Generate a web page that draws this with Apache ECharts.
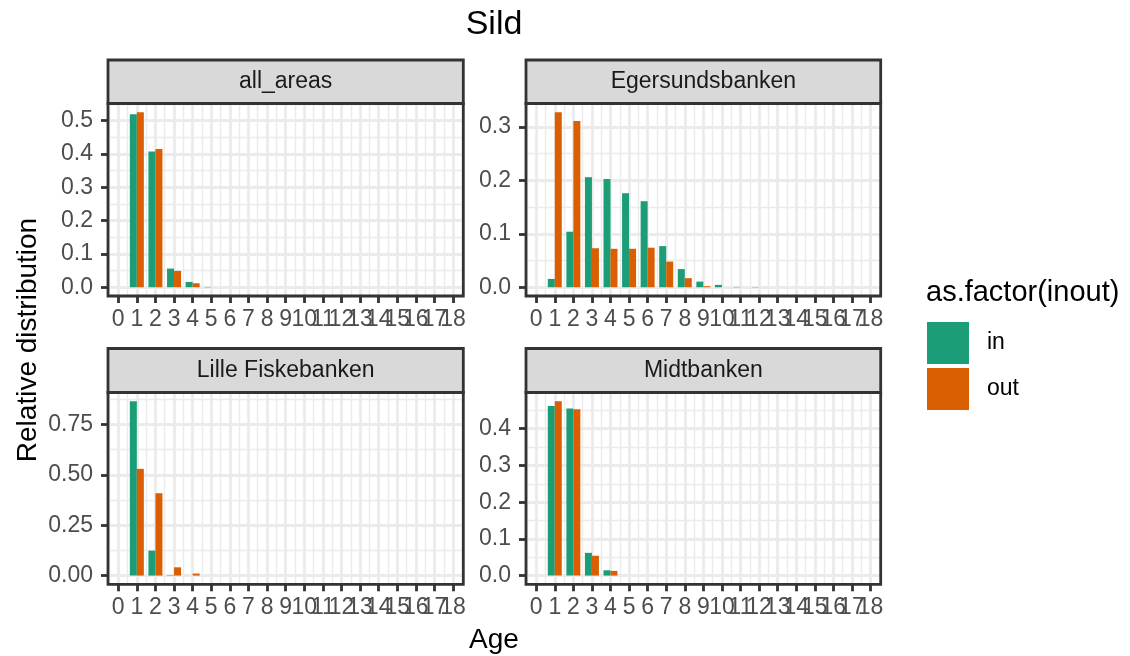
<!DOCTYPE html>
<html><head><meta charset="utf-8">
<script src="https://cdn.jsdelivr.net/npm/echarts@6/dist/echarts.min.js"></script>
<style>html,body{margin:0;padding:0;background:#fff}#c{width:1130px;height:656px}</style>
</head><body><div id="c"></div>
<script>
// ---------- data ----------
const xTicks = [0,1,2,3,4,5,6,7,8,9,10,11,12,13,14,15,16,17,18];
const seriesNames = ['in', 'out'];
const panelNames = ['all_areas', 'Egersundsbanken', 'Lille Fiskebanken', 'Midtbanken'];

const allAreasAges = [1, 2, 3, 4, 5];
const allAreasIn  = [0.519, 0.407, 0.056, 0.016, 0.001];
const allAreasOut = [0.525, 0.415, 0.049, 0.012, null];

const egersundAges = [1, 2, 3, 4, 5, 6, 7, 8, 9, 10, 11, 12];
const egersundIn  = [0.0156, 0.104, 0.206, 0.2025, 0.176, 0.161, 0.077, 0.034, 0.0106, 0.0044, 0.0006, 0.0005];
const egersundOut = [0.3275, 0.311, 0.073, 0.072, 0.072, 0.074, 0.048, 0.017, 0.002, null, null, null];

const lilleAges = [1, 2, 3, 4];
const lilleIn  = [0.866, 0.124, 0.002, null];
const lilleOut = [0.530, 0.409, 0.041, 0.010];

const midtAges = [1, 2, 3, 4];
const midtIn  = [0.462, 0.455, 0.062, 0.0145];
const midtOut = [0.475, 0.453, 0.054, 0.0127];

const yTicksAll   = [0, 0.1, 0.2, 0.3, 0.4, 0.5];
const yTicksEger  = [0, 0.1, 0.2, 0.3];
const yTicksLille = [0, 0.25, 0.5, 0.75];
const yTicksMidt  = [0, 0.1, 0.2, 0.3, 0.4];

// ---------- layout / style ----------
const FONT = "'Liberation Sans', Arial, sans-serif";
const COLORS = ['#1B9E77', '#D95F02'];
const cols = [{ left: 108, right: 463.3 }, { left: 526, right: 880.7 }];
const rows = [{ stripTop: 60, top: 103.5, bottom: 296 }, { stripTop: 348.5, top: 392.5, bottom: 584.3 }];
const X_MIN = -0.55, X_MAX = 18.55;

const panels = [
  { name: panelNames[0], ages: allAreasAges, vin: allAreasIn, vout: allAreasOut, ticks: yTicksAll, dec: 1, r: 0, c: 0 },
  { name: panelNames[1], ages: egersundAges, vin: egersundIn, vout: egersundOut, ticks: yTicksEger, dec: 1, r: 0, c: 1 },
  { name: panelNames[2], ages: lilleAges, vin: lilleIn, vout: lilleOut, ticks: yTicksLille, dec: 2, r: 1, c: 0 },
  { name: panelNames[3], ages: midtAges, vin: midtIn, vout: midtOut, ticks: yTicksMidt, dec: 1, r: 1, c: 1 }
];

function minorsOf(ticks, lo, hi) {
  const step = ticks[1] - ticks[0];
  const out = [ticks[0] - step / 2];
  ticks.forEach(t => out.push(t + step / 2));
  return out.filter(v => v >= lo && v <= hi);
}

const grid = [], xAxis = [], yAxis = [], series = [], graphic = [];
const xMinor = minorsOf(xTicks, X_MIN, X_MAX);
// labels are split over two overlaid axes so that ECharts never drops an overlapping end label
const xLabelsEven = xTicks.filter((t, j) => j % 2 === 0);
const xLabelsOdd  = xTicks.filter((t, j) => j % 2 === 1);
const xLabelStyle = { fontSize: 23, color: '#4d4d4d', margin: 12, fontFamily: FONT,
  hideOverlap: false, showMinLabel: true, showMaxLabel: true };

panels.forEach((p, i) => {
  const col = cols[p.c], row = rows[p.r];
  const w = col.right - col.left, h = row.bottom - row.top;
  const vals = p.vin.concat(p.vout).filter(v => v != null);
  const vmax = Math.max.apply(null, vals);
  const yMin = -0.05 * vmax, yMax = 1.05 * vmax;
  const yMinor = minorsOf(p.ticks, yMin, yMax);

  grid.push({ left: col.left, top: row.top, width: w, height: h, show: true, backgroundColor: '#fff', borderWidth: 0 });

  const xBase = xAxis.length;
  xAxis.push({
    type: 'value', gridIndex: i, min: X_MIN, max: X_MAX, position: 'bottom',
    axisLine: { show: false, onZero: false },
    axisTick: { show: true, customValues: xTicks, length: 7, lineStyle: { color: '#333333', width: 2.8 } },
    axisLabel: Object.assign({ customValues: xLabelsEven }, xLabelStyle),
    splitLine: { show: true, lineStyle: { color: '#ebebeb', width: 2.8 } }
  });
  xAxis.push({
    type: 'value', gridIndex: i, min: X_MIN, max: X_MAX, position: 'bottom',
    axisLine: { show: false, onZero: false },
    axisTick: { show: false, customValues: xLabelsOdd },
    axisLabel: Object.assign({ customValues: xLabelsOdd }, xLabelStyle),
    splitLine: { show: false }
  });
  xAxis.push({
    type: 'value', gridIndex: i, min: X_MIN, max: X_MAX, position: 'top',
    axisLine: { show: false, onZero: false },
    axisTick: { show: false, customValues: xMinor },
    axisLabel: { show: false, customValues: xMinor },
    splitLine: { show: true, lineStyle: { color: '#ebebeb', width: 1.4 } }
  });
  yAxis.push({
    type: 'value', gridIndex: i, min: yMin, max: yMax, position: 'left',
    axisLine: { show: false, onZero: false },
    axisTick: { show: true, customValues: p.ticks, length: 7, lineStyle: { color: '#333333', width: 2.8 } },
    axisLabel: { customValues: p.ticks, fontSize: 23, color: '#4d4d4d', margin: 15, fontFamily: FONT,
      showMinLabel: true, showMaxLabel: true,
      formatter: v => Number(v).toFixed(p.dec) },
    splitLine: { show: true, lineStyle: { color: '#ebebeb', width: 2.8 } }
  });
  yAxis.push({
    type: 'value', gridIndex: i, min: yMin, max: yMax, position: 'right',
    axisLine: { show: false, onZero: false },
    axisTick: { show: false, customValues: yMinor },
    axisLabel: { show: false, customValues: yMinor },
    splitLine: { show: true, lineStyle: { color: '#ebebeb', width: 1.4 } }
  });

  [p.vin, p.vout].forEach((arr, k) => {
    series.push({
      type: 'bar', name: seriesNames[k], xAxisIndex: xBase, yAxisIndex: 2 * i,
      barWidth: 7, barGap: '0%',
      itemStyle: { color: COLORS[k] },
      data: p.ages.map((a, j) => [a, arr[j]]).filter(d => d[1] != null),
      z: 5
    });
  });

  // panel border
  graphic.push({ type: 'rect', z: 100, shape: { x: col.left, y: row.top, width: w, height: h },
    style: { fill: 'none', stroke: '#333333', lineWidth: 2.8 } });
  // strip
  graphic.push({ type: 'rect', z: 100, shape: { x: col.left, y: row.stripTop, width: w, height: row.top - row.stripTop },
    style: { fill: '#d9d9d9', stroke: '#333333', lineWidth: 2.8 } });
  graphic.push({ type: 'text', z: 101, x: (col.left + col.right) / 2, y: (row.stripTop + row.top) / 2,
    style: { text: p.name, fill: '#1a1a1a', font: '23px ' + FONT, align: 'center', verticalAlign: 'middle' } });
});

graphic.push({ type: 'text', z: 101, x: 494, y: 640,
  style: { text: 'Age', fill: '#000', font: '28px ' + FONT, align: 'center', verticalAlign: 'middle' } });
graphic.push({ type: 'text', z: 101, x: 28, y: 340, rotation: Math.PI / 2,
  style: { text: 'Relative distribution', fill: '#000', font: '28px ' + FONT, align: 'center', verticalAlign: 'middle' } });
graphic.push({ type: 'text', z: 101, x: 926, y: 293,
  style: { text: 'as.factor(inout)', fill: '#000', font: '29px ' + FONT, align: 'left', verticalAlign: 'middle' } });

const option = {
  animation: false,
  backgroundColor: '#fff',
  title: { text: 'Sild', left: 494, top: 8, textAlign: 'center', padding: 0,
    textStyle: { fontSize: 34, fontWeight: 'normal', color: '#000', fontFamily: FONT } },
  legend: {
    data: seriesNames, orient: 'vertical', left: 927, top: 322, padding: 0,
    itemWidth: 42, itemHeight: 42, itemGap: 4, icon: 'rect',
    textStyle: { fontSize: 23, color: '#000', fontFamily: FONT, padding: [0, 0, 0, 13] }
  },
  grid, xAxis, yAxis, series, graphic
};

const chart = echarts.init(document.getElementById('c'), null, { renderer: 'canvas' });
chart.setOption(option);
</script>
</body></html>
